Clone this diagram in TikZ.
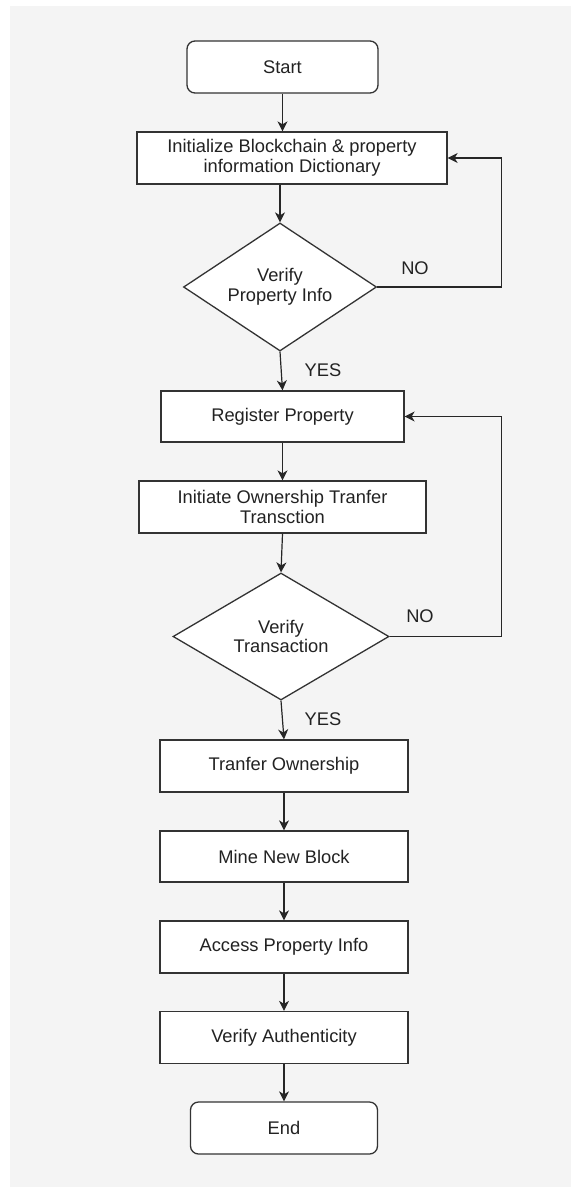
\documentclass[tikz,border=0pt]{standalone}
\usepackage{fontspec}
\setmainfont{Liberation Sans}
\usetikzlibrary{shapes.geometric,arrows.meta,calc}
\definecolor{bggray}{HTML}{F4F4F4}
\definecolor{edge}{HTML}{333333}
\definecolor{txt}{HTML}{222222}
\tikzset{
  base/.style={draw=edge, fill=white, line width=1.3pt, inner sep=0pt, align=center,
    font=\fontsize{18.3}{19.5}\selectfont, text=txt},
  procbox/.style={base, rectangle},
  termbox/.style={base, rectangle, rounded corners=8pt},
  decbox/.style={base, diamond, aspect=1.5},
  lbl/.style={font=\fontsize{18.3}{19.5}\selectfont, text=txt, inner sep=0pt},
  conn/.style={line width=1.2pt, draw=black!85, -{Stealth[length=10pt,width=10pt,inset=3pt]}}
}
\begin{document}
\begin{tikzpicture}[x=1pt,y=-1pt]
\useasboundingbox (0,0) rectangle (571,1187);
\fill[bggray] (10,6) rectangle (571,1187);

\node[termbox, minimum width=191pt, minimum height=52pt] (start) at (282.5,67) {Start};
\node[procbox, minimum width=310pt, minimum height=52pt] (init) at (292,158) {Initialize Blockchain \& property\\information Dictionary};
\node[decbox, minimum width=193pt, minimum height=128pt] (d1) at (280,287) {Verify\\Property Info};
\node[procbox, minimum width=243pt, minimum height=51pt] (reg) at (282.5,416.5) {Register Property};
\node[procbox, minimum width=287pt, minimum height=52pt] (initiate) at (282.5,507) {Initiate Ownership Tranfer\\Transction};
\node[decbox, minimum width=216pt, minimum height=127pt] (d2) at (281,636.5) {Verify\\Transaction};
\node[procbox, minimum width=248pt, minimum height=52pt] (tran) at (284,766) {Tranfer Ownership};
\node[procbox, minimum width=248pt, minimum height=51pt] (mine) at (284,856.5) {Mine New Block};
\node[procbox, minimum width=248pt, minimum height=52pt] (access) at (284,947) {Access Property Info};
\node[procbox, minimum width=248pt, minimum height=52pt] (vauth) at (284,1037.5) {Verify Authenticity};
\node[termbox, minimum width=187pt, minimum height=52pt] (end) at (284,1128) {End};

\node[lbl] (no1) at (415,268) {NO};
\node[lbl] (yes1) at (323,370) {YES};
\node[lbl] (no2) at (420,616) {NO};
\node[lbl] (yes2) at (323,719) {YES};

\draw[conn] (start.south) -- (start.south |- init.north);
\draw[conn] (d1.north |- init.south) -- (d1.north);
\draw[conn] (d1.south) -- (reg.north);
\draw[conn] (reg.south) -- (initiate.north);
\draw[conn] (initiate.south) -- (d2.north);
\draw[conn] (d2.south) -- (tran.north);
\draw[conn] (tran.south) -- (mine.north);
\draw[conn] (mine.south) -- (access.north);
\draw[conn] (access.south) -- (vauth.north);
\draw[conn] (vauth.south) -- (end.north);

\draw[conn] (d1.east) -- ++(124,0) |- (init.east);
\draw[conn] (d2.east) -- ++(112,0) |- (reg.east);
\end{tikzpicture}
\end{document}
